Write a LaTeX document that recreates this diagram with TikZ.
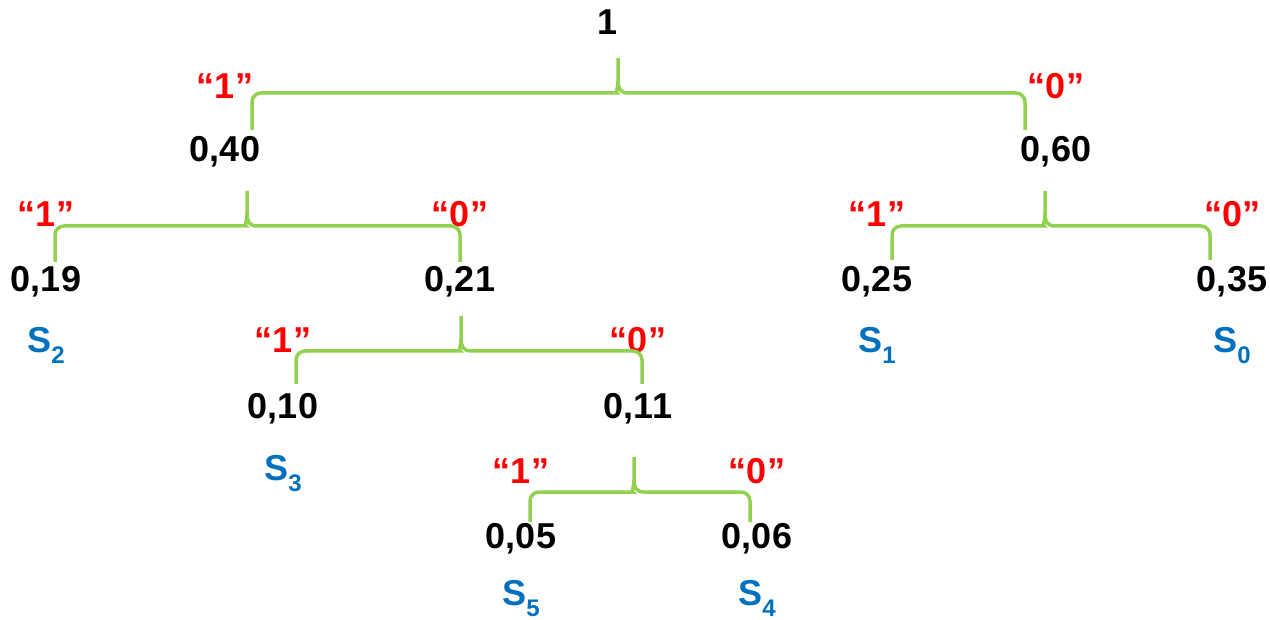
\documentclass[tikz,border=0pt]{standalone}
\usepackage{fontspec}
\setmainfont{Liberation Sans}
\usetikzlibrary{positioning}
\definecolor{hgreen}{HTML}{92D050}
\definecolor{hred}{HTML}{FF0000}
\definecolor{hblue}{HTML}{0070C0}
\tikzset{
  prob/.style={inner sep=0pt,anchor=base,font=\fontsize{36}{40}\selectfont\bfseries},
  code/.style={prob,text=hred},
  symbol/.style={prob,text=hblue},
  brace/.style={draw=hgreen,line width=3.5pt}
}
\newcommand{\sym}[1]{S\raisebox{-11pt}{\fontsize{24}{24}\selectfont #1}}
% brace: tip, left end, right end
\newcommand{\hbrace}[3]{%
  \path (#1) ++(0,35) coordinate (bm);
  \draw[brace] (#2) [rounded corners=9pt] -- (#2 |- bm) -- ([xshift=-10pt]bm)
    [sharp corners] .. controls ([xshift=-3pt]bm) and ([yshift=4pt]bm) .. ([yshift=12pt]bm)
    -- (#1) -- ([yshift=12pt]bm)
    .. controls ([yshift=4pt]bm) and ([xshift=3pt]bm) .. ([xshift=10pt]bm)
    [rounded corners=9pt] -- (#3 |- bm) -- (#3);
}

\begin{document}
\begin{tikzpicture}[x=1pt,y=-1pt]
  \useasboundingbox (0,0) rectangle (1270,620);
  % probabilities
  \node[prob] (n1) at (608,35) {1};
  \node[prob] (n040) at (225,162) {0,40};
  \node[prob] (n060) at (1056,162) {0,60};
  \node[prob] (n019) at (46,292) {0,19};
  \node[prob] (n021) at (460,292) {0,21};
  \node[prob] (n025) at (877,292) {0,25};
  \node[prob] (n035) at (1232,292) {0,35};
  \node[prob] (n010) at (283,419) {0,10};
  \node[prob] (n011) at (638,419) {0,11};
  \node[prob] (n005) at (521,548) {0,05};
  \node[prob] (n006) at (757,548) {0,06};
  % code bits
  \node[code,above=63pt of n040.base,anchor=base] (c040) {“1”};
  \node[code,above=63pt of n060.base,anchor=base] (c060) {“0”};
  \node[code,above=65pt of n019.base,anchor=base] (c019) {“1”};
  \node[code,above=65pt of n021.base,anchor=base] (c021) {“0”};
  \node[code,above=65pt of n025.base,anchor=base] (c025) {“1”};
  \node[code,above=65pt of n035.base,anchor=base] (c035) {“0”};
  \node[code,above=66pt of n010.base,anchor=base] (c010) {“1”};
  \node[code,above=66pt of n011.base,anchor=base] (c011) {“0”};
  \node[code,above=65pt of n005.base,anchor=base] (c005) {“1”};
  \node[code,above=65pt of n006.base,anchor=base] (c006) {“0”};
  % symbols
  \node[symbol,below=61pt of n019.base,anchor=base] (s2) {\sym{2}};
  \node[symbol,below=61pt of n025.base,anchor=base] (s1) {\sym{1}};
  \node[symbol,below=61pt of n035.base,anchor=base] (s0) {\sym{0}};
  \node[symbol,below=61pt of n010.base,anchor=base] (s3) {\sym{3}};
  \node[symbol,below=57pt of n005.base,anchor=base] (s5) {\sym{5}};
  \node[symbol,below=57pt of n006.base,anchor=base] (s4) {\sym{4}};
  % braces
  \coordinate (t1) at (618,58);
  \coordinate (e040) at (252,130);
  \coordinate (e060) at (1025,130);
  \coordinate (t040) at (247,191);
  \coordinate (e019) at (55,262);
  \coordinate (e021) at (460,262);
  \coordinate (t060) at (1045,191);
  \coordinate (e025) at (892,260);
  \coordinate (e035) at (1210,260);
  \coordinate (t021) at (461,316);
  \coordinate (e010) at (296,384);
  \coordinate (e011) at (642,384);
  \coordinate (t011) at (634,457);
  \coordinate (e005) at (530,522);
  \coordinate (e006) at (750,522);
  \hbrace{t1}{e040}{e060}
  \hbrace{t040}{e019}{e021}
  \hbrace{t060}{e025}{e035}
  \hbrace{t021}{e010}{e011}
  \hbrace{t011}{e005}{e006}
\end{tikzpicture}
\end{document}
